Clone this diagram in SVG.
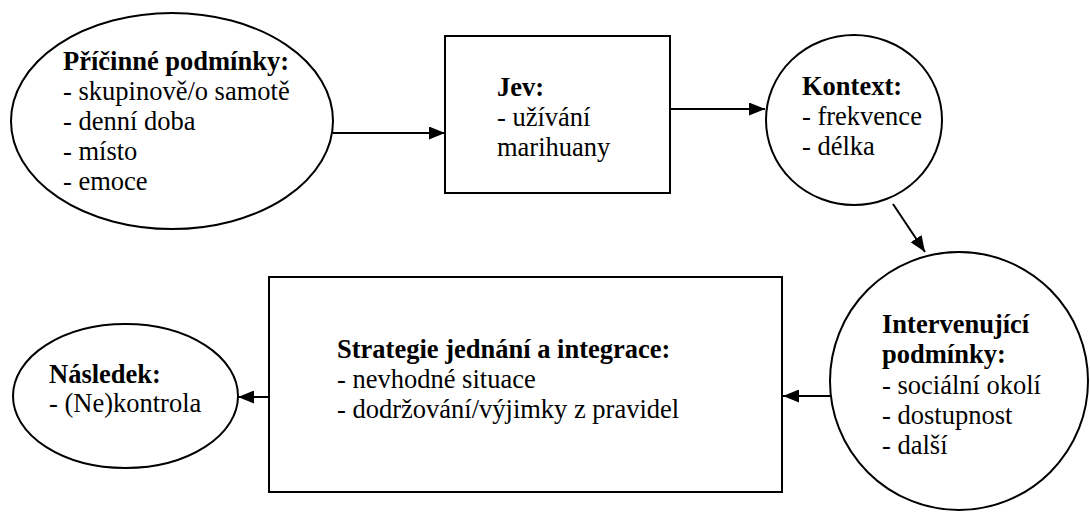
<svg xmlns="http://www.w3.org/2000/svg" width="1090" height="513" viewBox="0 0 1090 513">
<style>
.shape{fill:#fff;stroke:#000;stroke-width:2}
text{font-family:'Liberation Serif','Times New Roman','DejaVu Serif',serif;font-size:26.5px;fill:#000}
.b{font-weight:bold}
.conn{stroke:#000;stroke-width:2;fill:none;marker-end:url(#ah)}
</style>
<defs>
<marker id="ah" markerUnits="userSpaceOnUse" markerWidth="16" markerHeight="13" refX="16" refY="6.5" orient="auto">
<path d="M0,0 L16,6.5 L0,13 z" fill="#000"/>
</marker>
</defs>
<rect width="1090" height="513" fill="#fff"/>
<g id="pricinne">
<ellipse class="shape" cx="172" cy="121" rx="161" ry="108"/>
<text font-family="Liberation Serif, serif"><tspan class="b" x="63" y="70">Příčinné podmínky:</tspan><tspan x="63" y="100">- skupinově/o samotě</tspan><tspan x="63" y="130">- denní doba</tspan><tspan x="63" y="160">- místo</tspan><tspan x="63" y="190">- emoce</tspan></text>
</g>
<g id="jev">
<rect class="shape" x="445" y="36" width="225" height="157"/>
<text font-family="Liberation Serif, serif"><tspan class="b" x="497" y="96">Jev:</tspan><tspan x="497" y="126">- užívání</tspan><tspan x="497" y="156">marihuany</tspan></text>
</g>
<g id="kontext">
<ellipse class="shape" cx="854" cy="120" rx="88" ry="85"/>
<text font-family="Liberation Serif, serif"><tspan class="b" x="802" y="95">Kontext:</tspan><tspan x="802" y="125">- frekvence</tspan><tspan x="802" y="155">- délka</tspan></text>
</g>
<g id="intervenujici">
<ellipse class="shape" cx="959" cy="381" rx="129" ry="129"/>
<text font-family="Liberation Serif, serif"><tspan class="b" x="882" y="333">Intervenující</tspan><tspan class="b" x="882" y="363">podmínky:</tspan><tspan x="882" y="394">- sociální okolí</tspan><tspan x="882" y="424">- dostupnost</tspan><tspan x="882" y="454">- další</tspan></text>
</g>
<g id="strategie">
<rect class="shape" x="269" y="277" width="513" height="215"/>
<text font-family="Liberation Serif, serif"><tspan class="b" x="337" y="358">Strategie jednání a integrace:</tspan><tspan x="337" y="388">- nevhodné situace</tspan><tspan x="337" y="418">- dodržování/výjimky z pravidel</tspan></text>
</g>
<g id="nasledek">
<ellipse class="shape" cx="125.5" cy="396" rx="112.5" ry="72"/>
<text font-family="Liberation Serif, serif"><tspan class="b" x="49" y="383">Následek:</tspan><tspan x="49" y="412">- (Ne)kontrola</tspan></text>
</g>
<g id="connectors">
<line class="conn" x1="333" y1="133" x2="445" y2="133"/>
<line class="conn" x1="670" y1="109" x2="765" y2="109"/>
<line class="conn" x1="893" y1="204" x2="925" y2="252"/>
<line class="conn" x1="830" y1="396" x2="783" y2="396"/>
<line class="conn" x1="269" y1="397" x2="238" y2="397"/>
</g>
</svg>
